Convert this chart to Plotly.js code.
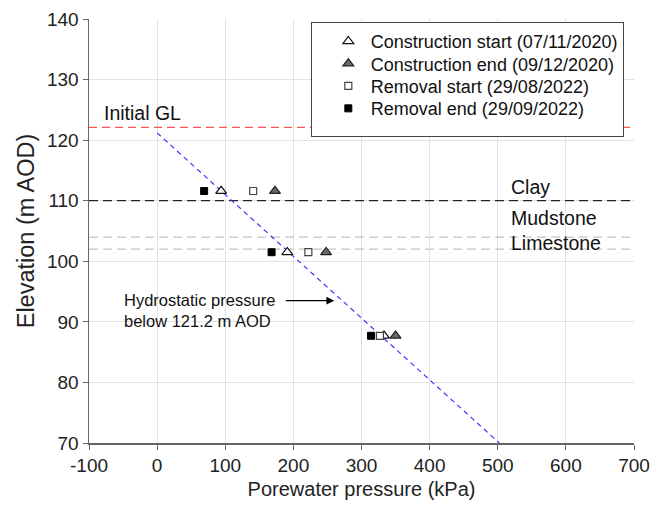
<!DOCTYPE html>
<html>
<head>
<meta charset="utf-8">
<script src="https://cdn.plot.ly/plotly-3.0.1.min.js"></script>
<style>
  html, body { margin: 0; padding: 0; background: #fff; }
  #chart { width: 667px; height: 507px; }
</style>
</head>
<body>
<div id="chart"></div>
<script>
// Measurement elevations (m AOD) and porewater pressures (kPa) at each stage
const elevations = [111.6, 101.5, 87.7];
const constructionStart = [94, 191, 333];
const constructionEnd = [173, 248, 350];
const removalStart = [141, 222, 327];
const removalEnd = [69, 168, 314];

const seriesNames = [
  'Construction start (07/11/2020)',
  'Construction end (09/12/2020)',
  'Removal start (29/08/2022)',
  'Removal end (29/09/2022)'
];

// Axis ticks (plain hyphen for negatives)
const xTickVals = [-100, 0, 100, 200, 300, 400, 500, 600, 700];
const xTickText = ['-100', '0', '100', '200', '300', '400', '500', '600', '700'];

// Reference levels (m AOD)
const initialGL = 122.1;
const clayBase = 110;
const mudstoneBase = 104;
const limestoneTop = 102;

// Hydrostatic line below 121.2 m AOD (unit weight of water 9.81 kN/m3)
const hydroTop = 121.2;
const hydroBottom = 70;
const gammaW = 9.81;
const hydroX = [0, (hydroTop - hydroBottom) * gammaW];
const hydroY = [hydroTop, hydroBottom];

const xFull = [-100, 700];
const FONT = 'Liberation Sans, Arial, sans-serif';

function hline(y, color, dash, width) {
  return {
    x: xFull, y: [y, y], mode: 'lines', showlegend: false, hoverinfo: 'skip',
    line: { color: color, width: width || 1.2, dash: dash }
  };
}

const traces = [
  hline(initialGL, '#ff5555', '8px,5px', 1.3),
  hline(clayBase, '#222222', '9px,5px'),
  hline(mudstoneBase, '#c4c4c4', '9px,5px'),
  hline(limestoneTop, '#c4c4c4', '9px,5px'),
  {
    x: hydroX, y: hydroY, mode: 'lines', showlegend: false, hoverinfo: 'skip',
    line: { color: '#2a2aff', width: 1.1, dash: '5px,4px' }
  },
  {
    x: constructionStart, y: elevations, mode: 'markers', name: seriesNames[0],
    marker: { symbol: 'triangle-up', size: 9.5, color: '#ffffff', line: { color: '#111111', width: 1.2 } }
  },
  {
    x: constructionEnd, y: elevations, mode: 'markers', name: seriesNames[1],
    marker: { symbol: 'triangle-up', size: 9.5, color: '#6a6a6a', line: { color: '#222222', width: 1.2 } }
  },
  {
    x: removalStart, y: elevations, mode: 'markers', name: seriesNames[2],
    marker: { symbol: 'square', size: 7, color: '#ffffff', line: { color: '#444444', width: 1.2 } }
  },
  {
    x: removalEnd, y: elevations, mode: 'markers', name: seriesNames[3],
    marker: { symbol: 'square', size: 7, color: '#000000', line: { color: '#000000', width: 1 } }
  }
];

const layout = {
  width: 667, height: 507,
  margin: { l: 89, r: 33, t: 19, b: 64 },
  paper_bgcolor: '#ffffff', plot_bgcolor: '#ffffff',
  font: { family: FONT, color: '#222222' },
  showlegend: true,
  legend: {
    x: 0.407, y: 0.993, xanchor: 'left', yanchor: 'top',
    bgcolor: '#ffffff', bordercolor: '#444444', borderwidth: 1,
    font: { family: FONT, size: 18, color: '#111111' },
    itemwidth: 49, tracegroupgap: 0
  },
  xaxis: {
    range: [-100, 700], tickvals: xTickVals, ticktext: xTickText,
    showgrid: true, gridcolor: '#e2e2e2', gridwidth: 1,
    zeroline: false, showline: true, linecolor: '#666666', linewidth: 1.5,
    ticks: 'outside', ticklen: 5, tickcolor: '#666666',
    tickfont: { family: FONT, size: 19, color: '#222222' },
    title: { text: 'Porewater pressure (kPa)', font: { family: FONT, size: 20, color: '#222222' }, standoff: 6 }
  },
  yaxis: {
    range: [70, 140], dtick: 10,
    showgrid: true, gridcolor: '#e2e2e2', gridwidth: 1,
    zeroline: false, showline: true, linecolor: '#666666', linewidth: 1.5,
    ticks: 'outside', ticklen: 5, tickcolor: '#666666',
    tickfont: { family: FONT, size: 19, color: '#222222' },
    title: { text: 'Elevation (m AOD)', font: { family: FONT, size: 23.5, color: '#222222' }, standoff: 6 }
  },
  annotations: [
    { x: -81, y: 124.5, xref: 'x', yref: 'y', text: 'Initial GL', showarrow: false,
      xanchor: 'left', yanchor: 'middle', font: { family: FONT, size: 19.5, color: '#111111' } },
    { x: 516, y: 112.3, xref: 'x', yref: 'y', text: 'Clay', showarrow: false,
      xanchor: 'left', yanchor: 'middle', font: { family: FONT, size: 19.5, color: '#111111' } },
    { x: 516, y: 107.1, xref: 'x', yref: 'y', text: 'Mudstone', showarrow: false,
      xanchor: 'left', yanchor: 'middle', font: { family: FONT, size: 19.5, color: '#111111' } },
    { x: 516, y: 103.0, xref: 'x', yref: 'y', text: 'Limestone', showarrow: false,
      xanchor: 'left', yanchor: 'middle', font: { family: FONT, size: 19.5, color: '#111111' } },
    { x: -52, y: 91.8, xref: 'x', yref: 'y', text: 'Hydrostatic pressure<br>below 121.2 m AOD',
      showarrow: false, xanchor: 'left', yanchor: 'middle', align: 'left',
      font: { family: FONT, size: 16.5, color: '#111111' } },
    { x: 260, y: 93.5, xref: 'x', yref: 'y', text: '', showarrow: true,
      ax: -50, ay: 0, arrowhead: 2, arrowsize: 1.3, arrowwidth: 1.2, arrowcolor: '#000000' }
  ]
};

// Tighten legend rows to a fixed pitch, nudge the symbols right, size the frame
const LEGEND_ROW = 22.4;
const LEGEND_BOX_H = 114;
const LEGEND_SYMBOL_SHIFT = 7;

function tightenLegend(gd) {
  const items = gd.querySelectorAll('.legend .traces');
  if (!items.length) return;
  const parse = t => {
    const m = /translate\(\s*([-\d.e]+)[\s,]+([-\d.e]+)/.exec(t || '');
    return m ? [parseFloat(m[1]), parseFloat(m[2])] : [0, 0];
  };
  const y0 = parse(items[0].getAttribute('transform'))[1];
  items.forEach((el, i) => {
    const p = parse(el.getAttribute('transform'));
    el.setAttribute('transform', 'translate(' + p[0] + ',' + (y0 + i * LEGEND_ROW) + ')');
    const pts = el.querySelector('.legendpoints');
    if (pts) {
      const t = pts.getAttribute('transform') || '';
      pts.setAttribute('transform', (t + ' translate(' + LEGEND_SYMBOL_SHIFT + ',0)').trim());
    }
  });
  const bg = gd.querySelector('.legend rect.bg');
  if (bg) bg.setAttribute('height', LEGEND_BOX_H);
}

const gd = document.getElementById('chart');
Plotly.newPlot(gd, traces, layout, { displayModeBar: false, staticPlot: true })
  .then(() => tightenLegend(gd));
</script>
</body>
</html>
